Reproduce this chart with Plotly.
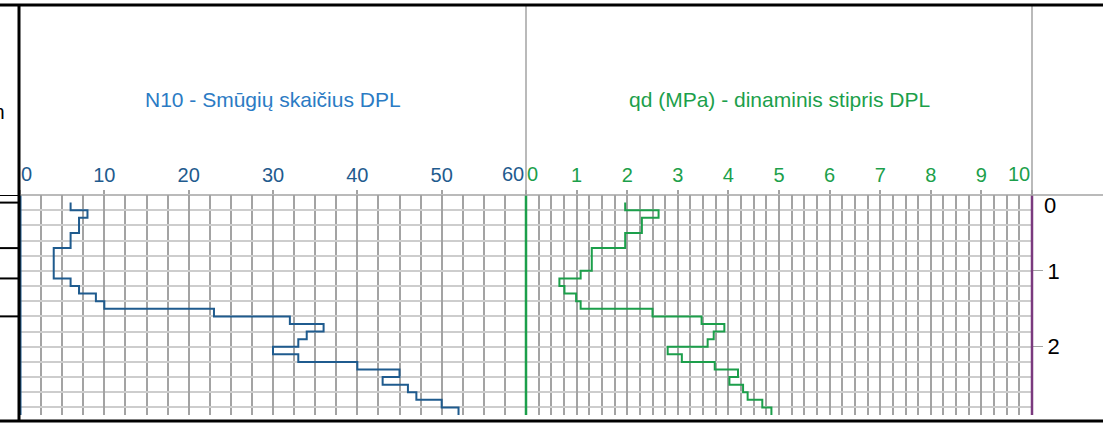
import plotly.graph_objects as go

# ---- data ----
depth_start = [0.1, 0.2, 0.3, 0.4, 0.5, 0.6, 0.7, 0.8, 0.9, 1.0,
               1.1, 1.2, 1.3, 1.4, 1.5, 1.6, 1.7, 1.8, 1.9, 2.0,
               2.1, 2.2, 2.3, 2.4, 2.5, 2.6, 2.7, 2.8]
step = 0.1
n10 = [6, 8, 7, 7, 6, 6, 4, 4, 4, 4,
       6, 7, 9, 10, 23, 32, 36, 34, 33, 30,
       33, 40, 45, 43, 46, 47, 50, 52]
qd = [1.96, 2.62, 2.29, 2.29, 1.96, 1.96, 1.30, 1.30, 1.30, 1.08,
      0.66, 0.76, 0.99, 1.08, 2.50, 3.47, 3.92, 3.71, 3.59, 2.80,
      3.08, 3.73, 4.19, 4.02, 4.29, 4.38, 4.67, 4.85]
n10_ticks = [0, 10, 20, 30, 40, 50, 60]
qd_ticks = [0, 1, 2, 3, 4, 5, 6, 7, 8, 9, 10]
depth_ticks = [0, 1, 2]
layer_depths = [0, 0.1, 0.7, 1.1, 1.6]
depth_max = 2.9

title_n10 = "N10 - Smūgių skaičius DPL"
title_qd = "qd (MPa) - dinaminis stipris DPL"

BLUE = "#1f5b8e"
BLUE_T = "#2b7bc4"
GREEN = "#1c9f4b"
PURPLE = "#7a3a7e"
VGRID = "#a3a3a3"
HGRID = "#cdcdcd"
FONT = "Liberation Sans, Arial, sans-serif"


def steps(values):
    xs, ys = [], []
    for d, v in zip(depth_start, values):
        xs += [v, v]
        ys += [d, d + step]
    return xs, ys


fig = go.Figure()
bx, by = steps(n10)
gx, gy = steps(qd)
fig.add_trace(go.Scatter(x=bx, y=by, mode="lines", xaxis="x", yaxis="y",
                         line=dict(color=BLUE, width=2), showlegend=False))
fig.add_trace(go.Scatter(x=gx, y=gy, mode="lines", xaxis="x2", yaxis="y",
                         line=dict(color=GREEN, width=2), showlegend=False))

W, H = 1103, 424
L, R, T, B = 20, 71, 195, 9
pw, ph = W - L - R, H - T - B


def px(xp):
    return (xp - L) / pw


def py(yp):
    return 1 + (T - yp) / ph


def axis_common(color):
    return dict(
        side="top", showline=False, zeroline=False, showgrid=True,
        gridcolor=VGRID, gridwidth=2, ticks="outside", ticklen=4,
        tickcolor=VGRID, tickwidth=2,
        tickfont=dict(family=FONT, size=20, color=color),
        fixedrange=True,
    )


fig.update_layout(
    width=W, height=H,
    margin=dict(l=L, r=R, t=T, b=B, pad=0),
    paper_bgcolor="white", plot_bgcolor="white",
    xaxis=dict(domain=[0, 0.5], range=[0, 60], tickmode="array",
               tickvals=n10_ticks,
               ticktext=[""] + [str(t) for t in n10_ticks[1:-1]] + [""],
               minor=dict(dtick=2.5, tick0=0, showgrid=True, gridcolor=VGRID,
                          gridwidth=2, ticks=""),
               anchor="y", ticklabelstandoff=0,
               **axis_common(BLUE)),
    xaxis2=dict(domain=[0.5, 1], range=[0, 10], tickmode="array",
                tickvals=qd_ticks,
                ticktext=[""] + [str(t) for t in qd_ticks[1:-1]] + [""],
                minor=dict(dtick=0.25, tick0=0, showgrid=True, gridcolor=VGRID,
                           gridwidth=2, ticks=""),
                anchor="y", ticklabelstandoff=0,
                **axis_common(GREEN)),
    yaxis=dict(range=[depth_max, 0], side="right", anchor="x2",
               tickmode="array", tickvals=depth_ticks[1:],
               ticktext=[str(t) for t in depth_ticks[1:]],
               ticks="outside", ticklen=10, tickcolor=VGRID, tickwidth=1,
               tickfont=dict(family=FONT, size=22, color="black"),
               showgrid=True, gridcolor=HGRID, gridwidth=2,
               minor=dict(dtick=0.2, tick0=0, showgrid=True, gridcolor=HGRID,
                          gridwidth=2, ticks=""),
               zeroline=False, showline=False, fixedrange=True),
)

ann_y = py(174)
annotations = [
    dict(text=title_n10, x=0.25, y=py(99), xref="paper", yref="paper",
         xanchor="center", yanchor="middle",
         showarrow=False, font=dict(family=FONT, size=21, color=BLUE_T)),
    dict(text=title_qd, x=0.75, y=py(99), xref="paper", yref="paper",
         xanchor="center", yanchor="middle",
         showarrow=False, font=dict(family=FONT, size=21, color=GREEN)),
    # edge tick labels kept inside their panel
    dict(text=str(n10_ticks[0]), x=n10_ticks[0], xref="x", y=ann_y, yref="paper",
         xanchor="left", yanchor="middle", showarrow=False, borderpad=0,
         font=dict(family=FONT, size=20, color=BLUE)),
    dict(text=str(n10_ticks[-1]), x=n10_ticks[-1], xref="x", y=ann_y, yref="paper",
         xanchor="right", yanchor="middle", showarrow=False, borderpad=0, xshift=-1,
         font=dict(family=FONT, size=20, color=BLUE)),
    dict(text=str(qd_ticks[0]), x=qd_ticks[0], xref="x2", y=ann_y, yref="paper",
         xanchor="left", yanchor="middle", showarrow=False, borderpad=0,
         font=dict(family=FONT, size=20, color=GREEN)),
    dict(text=str(qd_ticks[-1]), x=qd_ticks[-1], xref="x2", y=ann_y, yref="paper",
         xanchor="right", yanchor="middle", showarrow=False, borderpad=0, xshift=-1,
         font=dict(family=FONT, size=20, color=GREEN)),
    # depth label 0 (sits below its line)
    dict(text=str(depth_ticks[0]), x=px(1050), xref="paper", y=depth_ticks[0], yref="y",
         xanchor="center", yanchor="top", showarrow=False, borderpad=0, yshift=3,
         font=dict(family=FONT, size=22, color="black")),
    # clipped label at far left
    dict(text="m", x=px(6), xref="paper", y=py(112), yref="paper",
         xanchor="right", yanchor="middle", showarrow=False, borderpad=0,
         font=dict(family=FONT, size=20, color="black")),
]
fig.update_layout(annotations=annotations)

shapes = [
    # coloured axis lines (at panel edges: x=0, x2=0, x2=10)
    dict(type="line", xref="paper", yref="paper", x0=0, x1=0, y0=0, y1=1,
         line=dict(color=BLUE, width=3)),
    dict(type="line", xref="paper", yref="paper", x0=0.5, x1=0.5, y0=0, y1=1,
         line=dict(color=GREEN, width=2.5)),
    dict(type="line", xref="paper", yref="paper", x0=1, x1=1, y0=0, y1=1,
         line=dict(color=PURPLE, width=2.5)),
    # grey header frame
    dict(type="line", xref="paper", yref="paper", x0=0, x1=px(W), y0=1, y1=1,
         line=dict(color=VGRID, width=1.5)),
    dict(type="line", xref="paper", yref="paper", x0=0.5, x1=0.5, y0=1, y1=py(5),
         line=dict(color=VGRID, width=1.5)),
    dict(type="line", xref="paper", yref="paper", x0=1, x1=1, y0=1, y1=py(5),
         line=dict(color=VGRID, width=1.5)),
    # black outer frame
    dict(type="line", xref="paper", yref="paper", x0=px(0), x1=px(W), y0=py(5), y1=py(5),
         line=dict(color="black", width=3)),
    dict(type="line", xref="paper", yref="paper", x0=px(0), x1=px(W), y0=py(421), y1=py(421),
         line=dict(color="black", width=3)),
    dict(type="line", xref="paper", yref="paper", x0=px(19), x1=px(19), y0=py(421), y1=py(5),
         line=dict(color="black", width=3)),
]
for d in layer_depths:
    shapes.append(dict(type="line", xref="paper", yref="y", x0=px(0), x1=px(19),
                       y0=d, y1=d, line=dict(color="black", width=2)))
fig.update_layout(shapes=shapes)

fig.write_html(
    "out.html",
    config={"displayModeBar": False},
    post_script="document.body.style.margin='0';document.body.style.overflow='hidden';",
)
